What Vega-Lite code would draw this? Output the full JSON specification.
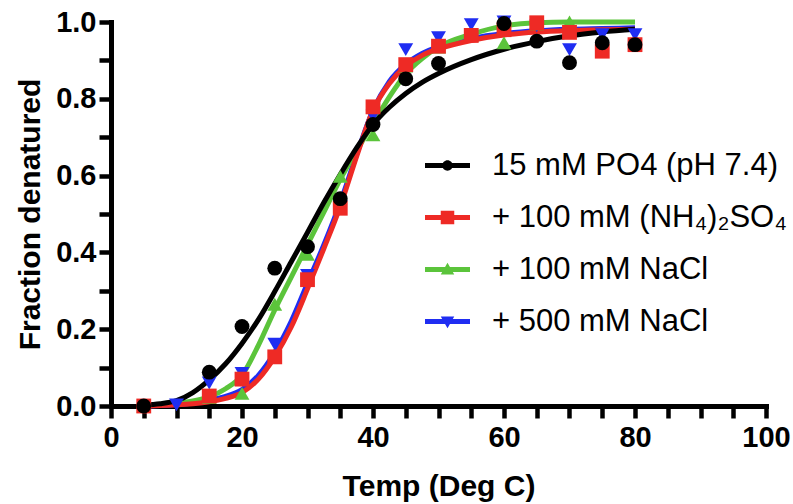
{
  "$schema": "https://vega.github.io/schema/vega-lite/v6.json",
  "width": 655,
  "height": 384,
  "autosize": {"type": "none"},
  "padding": {"left": 111, "top": 22, "right": 27, "bottom": 98},
  "background": "white",
  "config": {"view": {"stroke": null}},
  "datasets": {
    "pts": [
      {"s": "+ 500 mM NaCl", "T": 10, "y": 0.003},
      {"s": "+ 500 mM NaCl", "T": 15, "y": 0.06},
      {"s": "+ 500 mM NaCl", "T": 20, "y": 0.085},
      {"s": "+ 500 mM NaCl", "T": 25, "y": 0.161},
      {"s": "+ 500 mM NaCl", "T": 30, "y": 0.34},
      {"s": "+ 500 mM NaCl", "T": 35, "y": 0.52},
      {"s": "+ 500 mM NaCl", "T": 40, "y": 0.755},
      {"s": "+ 500 mM NaCl", "T": 45, "y": 0.928},
      {"s": "+ 500 mM NaCl", "T": 50, "y": 0.959},
      {"s": "+ 500 mM NaCl", "T": 55, "y": 0.993},
      {"s": "+ 500 mM NaCl", "T": 60, "y": 1.0},
      {"s": "+ 500 mM NaCl", "T": 65, "y": 0.99},
      {"s": "+ 500 mM NaCl", "T": 70, "y": 0.928},
      {"s": "+ 500 mM NaCl", "T": 75, "y": 0.967},
      {"s": "+ 500 mM NaCl", "T": 80, "y": 0.967},
      {"s": "+ 100 mM NaCl", "T": 5, "y": 0.0},
      {"s": "+ 100 mM NaCl", "T": 15, "y": 0.022},
      {"s": "+ 100 mM NaCl", "T": 20, "y": 0.033},
      {"s": "+ 100 mM NaCl", "T": 25, "y": 0.265},
      {"s": "+ 100 mM NaCl", "T": 30, "y": 0.395},
      {"s": "+ 100 mM NaCl", "T": 35, "y": 0.598},
      {"s": "+ 100 mM NaCl", "T": 40, "y": 0.706},
      {"s": "+ 100 mM NaCl", "T": 45, "y": 0.885},
      {"s": "+ 100 mM NaCl", "T": 50, "y": 0.935},
      {"s": "+ 100 mM NaCl", "T": 55, "y": 0.965},
      {"s": "+ 100 mM NaCl", "T": 60, "y": 0.946},
      {"s": "+ 100 mM NaCl", "T": 65, "y": 0.995},
      {"s": "+ 100 mM NaCl", "T": 70, "y": 1.0},
      {"s": "+ 100 mM (NH₄)₂SO₄", "T": 5, "y": 0.0},
      {"s": "+ 100 mM (NH₄)₂SO₄", "T": 15, "y": 0.026},
      {"s": "+ 100 mM (NH₄)₂SO₄", "T": 20, "y": 0.07},
      {"s": "+ 100 mM (NH₄)₂SO₄", "T": 25, "y": 0.128},
      {"s": "+ 100 mM (NH₄)₂SO₄", "T": 30, "y": 0.329},
      {"s": "+ 100 mM (NH₄)₂SO₄", "T": 35, "y": 0.515},
      {"s": "+ 100 mM (NH₄)₂SO₄", "T": 40, "y": 0.779},
      {"s": "+ 100 mM (NH₄)₂SO₄", "T": 45, "y": 0.889},
      {"s": "+ 100 mM (NH₄)₂SO₄", "T": 50, "y": 0.937},
      {"s": "+ 100 mM (NH₄)₂SO₄", "T": 55, "y": 0.965},
      {"s": "+ 100 mM (NH₄)₂SO₄", "T": 60, "y": 0.98},
      {"s": "+ 100 mM (NH₄)₂SO₄", "T": 65, "y": 0.998},
      {"s": "+ 100 mM (NH₄)₂SO₄", "T": 70, "y": 0.973},
      {"s": "+ 100 mM (NH₄)₂SO₄", "T": 75, "y": 0.924},
      {"s": "+ 100 mM (NH₄)₂SO₄", "T": 80, "y": 0.941},
      {"s": "15 mM PO4 (pH 7.4)", "T": 5, "y": 0.0},
      {"s": "15 mM PO4 (pH 7.4)", "T": 15, "y": 0.088},
      {"s": "15 mM PO4 (pH 7.4)", "T": 20, "y": 0.207},
      {"s": "15 mM PO4 (pH 7.4)", "T": 25, "y": 0.359},
      {"s": "15 mM PO4 (pH 7.4)", "T": 30, "y": 0.415},
      {"s": "15 mM PO4 (pH 7.4)", "T": 35, "y": 0.54},
      {"s": "15 mM PO4 (pH 7.4)", "T": 40, "y": 0.733},
      {"s": "15 mM PO4 (pH 7.4)", "T": 45, "y": 0.852},
      {"s": "15 mM PO4 (pH 7.4)", "T": 50, "y": 0.892},
      {"s": "15 mM PO4 (pH 7.4)", "T": 60, "y": 0.996},
      {"s": "15 mM PO4 (pH 7.4)", "T": 65, "y": 0.95},
      {"s": "15 mM PO4 (pH 7.4)", "T": 70, "y": 0.894},
      {"s": "15 mM PO4 (pH 7.4)", "T": 75, "y": 0.946},
      {"s": "15 mM PO4 (pH 7.4)", "T": 80, "y": 0.941}
    ],
    "fit": [
      {"s": "+ 500 mM NaCl", "T": 5, "y": 0.0},
      {"s": "+ 500 mM NaCl", "T": 7.5, "y": 0.001},
      {"s": "+ 500 mM NaCl", "T": 10, "y": 0.004},
      {"s": "+ 500 mM NaCl", "T": 12.5, "y": 0.008},
      {"s": "+ 500 mM NaCl", "T": 15, "y": 0.015},
      {"s": "+ 500 mM NaCl", "T": 17.5, "y": 0.025},
      {"s": "+ 500 mM NaCl", "T": 20, "y": 0.043},
      {"s": "+ 500 mM NaCl", "T": 22.5, "y": 0.08},
      {"s": "+ 500 mM NaCl", "T": 25, "y": 0.14},
      {"s": "+ 500 mM NaCl", "T": 27.5, "y": 0.22},
      {"s": "+ 500 mM NaCl", "T": 30, "y": 0.32},
      {"s": "+ 500 mM NaCl", "T": 32.5, "y": 0.42},
      {"s": "+ 500 mM NaCl", "T": 35, "y": 0.53},
      {"s": "+ 500 mM NaCl", "T": 37.5, "y": 0.655},
      {"s": "+ 500 mM NaCl", "T": 40, "y": 0.77},
      {"s": "+ 500 mM NaCl", "T": 42.5, "y": 0.845},
      {"s": "+ 500 mM NaCl", "T": 45, "y": 0.89},
      {"s": "+ 500 mM NaCl", "T": 47.5, "y": 0.918},
      {"s": "+ 500 mM NaCl", "T": 50, "y": 0.936},
      {"s": "+ 500 mM NaCl", "T": 55, "y": 0.957},
      {"s": "+ 500 mM NaCl", "T": 60, "y": 0.97},
      {"s": "+ 500 mM NaCl", "T": 65, "y": 0.977},
      {"s": "+ 500 mM NaCl", "T": 70, "y": 0.981},
      {"s": "+ 500 mM NaCl", "T": 75, "y": 0.983},
      {"s": "+ 500 mM NaCl", "T": 80, "y": 0.985},
      {"s": "+ 100 mM NaCl", "T": 5, "y": 0.001},
      {"s": "+ 100 mM NaCl", "T": 7.5, "y": 0.003},
      {"s": "+ 100 mM NaCl", "T": 10, "y": 0.007},
      {"s": "+ 100 mM NaCl", "T": 12.5, "y": 0.013},
      {"s": "+ 100 mM NaCl", "T": 15, "y": 0.024},
      {"s": "+ 100 mM NaCl", "T": 17.5, "y": 0.045},
      {"s": "+ 100 mM NaCl", "T": 20, "y": 0.08},
      {"s": "+ 100 mM NaCl", "T": 22.5, "y": 0.158},
      {"s": "+ 100 mM NaCl", "T": 25, "y": 0.25},
      {"s": "+ 100 mM NaCl", "T": 27.5, "y": 0.335},
      {"s": "+ 100 mM NaCl", "T": 30, "y": 0.42},
      {"s": "+ 100 mM NaCl", "T": 32.5, "y": 0.505},
      {"s": "+ 100 mM NaCl", "T": 35, "y": 0.59},
      {"s": "+ 100 mM NaCl", "T": 37.5, "y": 0.665},
      {"s": "+ 100 mM NaCl", "T": 40, "y": 0.735},
      {"s": "+ 100 mM NaCl", "T": 42.5, "y": 0.805},
      {"s": "+ 100 mM NaCl", "T": 45, "y": 0.865},
      {"s": "+ 100 mM NaCl", "T": 47.5, "y": 0.905},
      {"s": "+ 100 mM NaCl", "T": 50, "y": 0.935},
      {"s": "+ 100 mM NaCl", "T": 55, "y": 0.968},
      {"s": "+ 100 mM NaCl", "T": 60, "y": 0.99},
      {"s": "+ 100 mM NaCl", "T": 65, "y": 0.998},
      {"s": "+ 100 mM NaCl", "T": 70, "y": 1.0},
      {"s": "+ 100 mM NaCl", "T": 75, "y": 1.0},
      {"s": "+ 100 mM NaCl", "T": 80, "y": 1.0},
      {"s": "+ 100 mM (NH₄)₂SO₄", "T": 5, "y": 0.0},
      {"s": "+ 100 mM (NH₄)₂SO₄", "T": 7.5, "y": 0.001},
      {"s": "+ 100 mM (NH₄)₂SO₄", "T": 10, "y": 0.003},
      {"s": "+ 100 mM (NH₄)₂SO₄", "T": 12.5, "y": 0.006},
      {"s": "+ 100 mM (NH₄)₂SO₄", "T": 15, "y": 0.011},
      {"s": "+ 100 mM (NH₄)₂SO₄", "T": 17.5, "y": 0.02},
      {"s": "+ 100 mM (NH₄)₂SO₄", "T": 20, "y": 0.035},
      {"s": "+ 100 mM (NH₄)₂SO₄", "T": 22.5, "y": 0.07},
      {"s": "+ 100 mM (NH₄)₂SO₄", "T": 25, "y": 0.128},
      {"s": "+ 100 mM (NH₄)₂SO₄", "T": 27.5, "y": 0.205},
      {"s": "+ 100 mM (NH₄)₂SO₄", "T": 30, "y": 0.305},
      {"s": "+ 100 mM (NH₄)₂SO₄", "T": 32.5, "y": 0.41},
      {"s": "+ 100 mM (NH₄)₂SO₄", "T": 35, "y": 0.52},
      {"s": "+ 100 mM (NH₄)₂SO₄", "T": 37.5, "y": 0.65},
      {"s": "+ 100 mM (NH₄)₂SO₄", "T": 40, "y": 0.77},
      {"s": "+ 100 mM (NH₄)₂SO₄", "T": 42.5, "y": 0.84},
      {"s": "+ 100 mM (NH₄)₂SO₄", "T": 45, "y": 0.885},
      {"s": "+ 100 mM (NH₄)₂SO₄", "T": 47.5, "y": 0.913},
      {"s": "+ 100 mM (NH₄)₂SO₄", "T": 50, "y": 0.93},
      {"s": "+ 100 mM (NH₄)₂SO₄", "T": 55, "y": 0.952},
      {"s": "+ 100 mM (NH₄)₂SO₄", "T": 60, "y": 0.966},
      {"s": "+ 100 mM (NH₄)₂SO₄", "T": 65, "y": 0.974},
      {"s": "+ 100 mM (NH₄)₂SO₄", "T": 70, "y": 0.978},
      {"s": "+ 100 mM (NH₄)₂SO₄", "T": 75, "y": 0.98},
      {"s": "+ 100 mM (NH₄)₂SO₄", "T": 80, "y": 0.981},
      {"s": "15 mM PO4 (pH 7.4)", "T": 5, "y": 0.003},
      {"s": "15 mM PO4 (pH 7.4)", "T": 7.5, "y": 0.006},
      {"s": "15 mM PO4 (pH 7.4)", "T": 10, "y": 0.014},
      {"s": "15 mM PO4 (pH 7.4)", "T": 12.5, "y": 0.035},
      {"s": "15 mM PO4 (pH 7.4)", "T": 15, "y": 0.068},
      {"s": "15 mM PO4 (pH 7.4)", "T": 17.5, "y": 0.11},
      {"s": "15 mM PO4 (pH 7.4)", "T": 20, "y": 0.163},
      {"s": "15 mM PO4 (pH 7.4)", "T": 22.5, "y": 0.225},
      {"s": "15 mM PO4 (pH 7.4)", "T": 25, "y": 0.298},
      {"s": "15 mM PO4 (pH 7.4)", "T": 27.5, "y": 0.375},
      {"s": "15 mM PO4 (pH 7.4)", "T": 30, "y": 0.452},
      {"s": "15 mM PO4 (pH 7.4)", "T": 32.5, "y": 0.53},
      {"s": "15 mM PO4 (pH 7.4)", "T": 35, "y": 0.603},
      {"s": "15 mM PO4 (pH 7.4)", "T": 37.5, "y": 0.672},
      {"s": "15 mM PO4 (pH 7.4)", "T": 40, "y": 0.733},
      {"s": "15 mM PO4 (pH 7.4)", "T": 42.5, "y": 0.778},
      {"s": "15 mM PO4 (pH 7.4)", "T": 45, "y": 0.814},
      {"s": "15 mM PO4 (pH 7.4)", "T": 47.5, "y": 0.843},
      {"s": "15 mM PO4 (pH 7.4)", "T": 50, "y": 0.866},
      {"s": "15 mM PO4 (pH 7.4)", "T": 55, "y": 0.902},
      {"s": "15 mM PO4 (pH 7.4)", "T": 60, "y": 0.929},
      {"s": "15 mM PO4 (pH 7.4)", "T": 65, "y": 0.949},
      {"s": "15 mM PO4 (pH 7.4)", "T": 70, "y": 0.964},
      {"s": "15 mM PO4 (pH 7.4)", "T": 75, "y": 0.974},
      {"s": "15 mM PO4 (pH 7.4)", "T": 80, "y": 0.981}
    ]
  },
  "encoding": {
    "x": {
      "field": "T", "type": "quantitative",
      "scale": {"domain": [0, 100], "nice": false, "zero": false},
      "axis": {
        "title": "Temp (Deg C)",
        "values": [0, 5, 10, 15, 20, 25, 30, 35, 40, 45, 50, 55, 60, 65, 70, 75, 80, 85, 90, 95, 100],
        "labelExpr": "datum.value % 20 === 0 ? datum.label : ''",
        "labelFlush": false, "labelOverlap": false,
        "grid": false,
        "domainColor": "black", "domainWidth": 5, "domainCap": "square",
        "tickColor": "black", "tickWidth": 4.5, "tickSize": 12,
        "labelFont": "Liberation Sans", "labelFontWeight": "bold", "labelFontSize": 29, "labelColor": "black", "labelPadding": 5,
        "titleFont": "Liberation Sans", "titleFontWeight": "bold", "titleFontSize": 30, "titleColor": "black", "titlePadding": 19
      }
    },
    "y": {
      "field": "y", "type": "quantitative",
      "scale": {"domain": [0, 1], "nice": false},
      "axis": {
        "title": "Fraction denatured",
        "values": [0, 0.1, 0.2, 0.3, 0.4, 0.5, 0.6, 0.7, 0.8, 0.9, 1],
        "labelExpr": "round(datum.value * 10) % 2 === 0 ? format(datum.value, '.1f') : ''",
        "labelFlush": false, "labelOverlap": false,
        "grid": false,
        "domainColor": "black", "domainWidth": 5, "domainCap": "square",
        "tickColor": "black", "tickWidth": 4.5, "tickSize": 12,
        "labelFont": "Liberation Sans", "labelFontWeight": "bold", "labelFontSize": 29, "labelColor": "black", "labelPadding": 3,
        "titleFont": "Liberation Sans", "titleFontWeight": "bold", "titleFontSize": 30, "titleColor": "black", "titlePadding": 10
      }
    }
  },
  "layer": [
    {
      "data": {"name": "fit"},
      "mark": {"type": "line", "strokeWidth": 5, "interpolate": "monotone"},
      "encoding": {
        "color": {
          "field": "s", "type": "nominal",
          "scale": {
            "domain": ["15 mM PO4 (pH 7.4)", "+ 100 mM (NH₄)₂SO₄", "+ 100 mM NaCl", "+ 500 mM NaCl"],
            "range": ["#000000", "#EE2A25", "#5BC43B", "#1F2DF2"]
          },
          "legend": null
        },
        "order": {"field": "T", "type": "quantitative"}
      }
    },
    {
      "data": {"name": "pts"},
      "mark": {"type": "point", "filled": true, "opacity": 1, "size": 220},
      "encoding": {
        "color": {
          "field": "s", "type": "nominal",
          "scale": {
            "domain": ["15 mM PO4 (pH 7.4)", "+ 100 mM (NH₄)₂SO₄", "+ 100 mM NaCl", "+ 500 mM NaCl"],
            "range": ["#000000", "#EE2A25", "#5BC43B", "#1F2DF2"]
          },
          "legend": null
        },
        "shape": {
          "field": "s", "type": "nominal",
          "scale": {
            "domain": ["15 mM PO4 (pH 7.4)", "+ 100 mM (NH₄)₂SO₄", "+ 100 mM NaCl", "+ 500 mM NaCl"],
            "range": ["circle", "square", "triangle-up", "triangle-down"]
          },
          "legend": null
        }
      }
    },
    {
      "data": {"name": "pts"},
      "transform": [{"filter": "datum.T < 0"}],
      "mark": {"type": "point", "filled": true, "opacity": 1},
      "encoding": {
        "color": {
          "field": "s", "type": "nominal",
          "scale": {
            "domain": ["15 mM PO4 (pH 7.4)", "+ 100 mM (NH₄)₂SO₄", "+ 100 mM NaCl", "+ 500 mM NaCl"],
            "range": ["#000000", "#EE2A25", "#5BC43B", "#1F2DF2"]
          },
          "legend": {
            "orient": "none", "legendX": 314, "legendY": 121,
            "title": null,
            "symbolSize": 2025, "symbolStrokeWidth": 0, "symbolOpacity": 1,
            "labelFont": "Liberation Sans", "labelFontSize": 31, "labelColor": "black",
            "labelOffset": 22, "labelLimit": 0, "rowPadding": 14
          }
        },
        "shape": {
          "field": "s", "type": "nominal",
          "scale": {
            "domain": ["15 mM PO4 (pH 7.4)", "+ 100 mM (NH₄)₂SO₄", "+ 100 mM NaCl", "+ 500 mM NaCl"],
            "range": [
              "M-1,-0.11H1V0.11H-1Z M0.23,0A0.23,0.23 0 1,1 -0.23,0A0.23,0.23 0 1,1 0.23,0Z",
              "M-1,-0.11H1V0.11H-1Z M-0.3,-0.3H0.3V0.3H-0.3Z",
              "M-1,-0.11H1V0.11H-1Z M0,-0.3L0.3,0.22L-0.3,0.22Z",
              "M-1,-0.11H1V0.11H-1Z M-0.3,-0.22L0.3,-0.22L0,0.3Z"
            ]
          },
          "legend": {
            "orient": "none", "legendX": 314, "legendY": 121,
            "title": null,
            "symbolSize": 2025, "symbolStrokeWidth": 0, "symbolOpacity": 1,
            "labelFont": "Liberation Sans", "labelFontSize": 31, "labelColor": "black",
            "labelOffset": 22, "labelLimit": 0, "rowPadding": 14
          }
        }
      }
    }
  ],
  "resolve": {"scale": {"shape": "independent", "color": "independent"}}
}
